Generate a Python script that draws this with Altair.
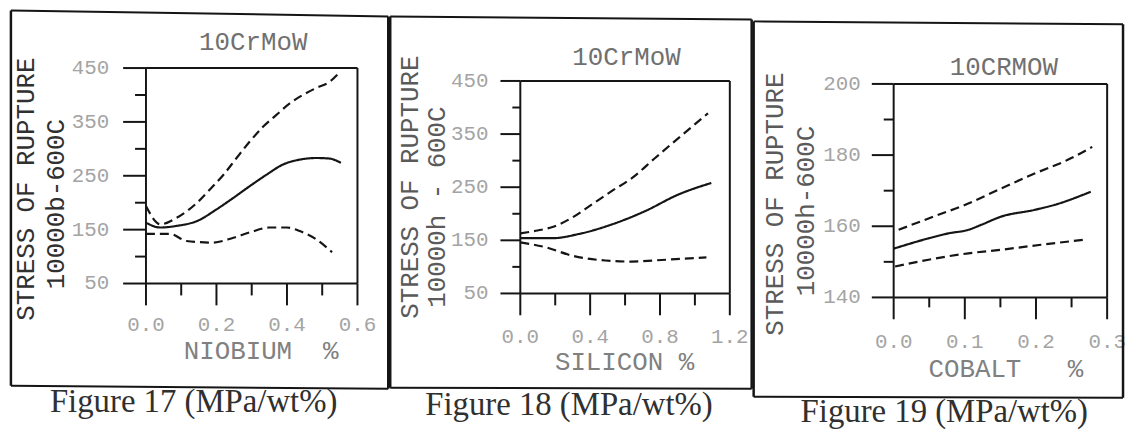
import altair as alt
import pandas as pd

MONO = "Liberation Mono"
SERIF = "Liberation Serif"
NB = "\u00a0"

# ---------------- data: Figure 17 (niobium) ----------------
nb_mid_x = [0.000, 0.040, 0.087, 0.145, 0.201, 0.248, 0.295, 0.342, 0.389, 0.436, 0.483, 0.520, 0.553]
nb_mid_y = [163, 154, 157, 166, 188, 209, 231, 252, 271, 280, 283, 282, 274]
nb_up_x = [0.000, 0.041, 0.087, 0.145, 0.182, 0.220, 0.257, 0.295, 0.332, 0.370, 0.407, 0.445, 0.483, 0.520, 0.548]
nb_up_y = [194, 160, 172, 200, 225, 252, 283, 314, 341, 363, 384, 400, 413, 424, 441]
nb_lo_x = [0.000, 0.068, 0.115, 0.190, 0.248, 0.295, 0.351, 0.400, 0.434, 0.483, 0.528]
nb_lo_y = [142, 142, 129, 126, 135, 145, 154, 154, 148, 132, 108]

# ---------------- data: Figure 18 (silicon) ----------------
si_mid_x = [0.0, 0.184, 0.336, 0.525, 0.715, 0.904, 1.094]
si_mid_y = [154, 154, 162, 180, 205, 236, 258]
si_up_x = [0.0, 0.089, 0.184, 0.298, 0.412, 0.525, 0.639, 0.772, 0.904, 1.075]
si_up_y = [163, 168, 175, 193, 218, 243, 267, 305, 342, 389]
si_lo_x = [0.0, 0.146, 0.298, 0.487, 0.639, 0.810, 1.066]
si_lo_y = [146, 137, 121, 112, 110, 113, 118]

# ---------------- data: Figure 19 (cobalt) ----------------
co_mid_x = [0.0, 0.049, 0.077, 0.105, 0.123, 0.151, 0.198, 0.226, 0.277]
co_mid_y = [153.7, 156.6, 158.0, 159.0, 160.4, 162.7, 164.6, 166.0, 169.7]
co_up_x = [0.007, 0.049, 0.100, 0.151, 0.198, 0.244, 0.279]
co_up_y = [159.0, 162.2, 166.0, 170.6, 174.8, 178.6, 182.3]
co_lo_x = [0.002, 0.049, 0.105, 0.151, 0.207, 0.267]
co_lo_y = [148.7, 150.6, 152.4, 153.4, 154.8, 156.2]

# ---------------- ticks and tick labels ----------------
nb_x_major = [0.0, 0.2, 0.4, 0.6]
nb_x_labels = ["0.0", "0.2", "0.4", "0.6"]
nb_x_minor = [0.1, 0.3, 0.5]
si_x_major = [0.0, 0.4, 0.8, 1.2]
si_x_labels = ["0.0", "0.4", "0.8", "1.2"]
si_x_minor = [0.2, 0.6, 1.0]
co_x_major = [0.0, 0.1, 0.2, 0.3]
co_x_labels = ["0.0", "0.1", "0.2", "0.3"]
co_x_minor = [0.05, 0.15, 0.25]
st_y_major = [50, 150, 250, 350, 450]
st_y_labels = ["50", "150", "250", "350", "450"]
st_y_minor = [100, 200, 300, 400]
co_y_major = [140, 160, 180, 200]
co_y_labels = ["140", "160", "180", "200"]
co_y_minor = [150, 170, 190]

one = alt.Data(values=[{"k": 1}])
INK = "#151515"
LBL = "#a4a4a4"


def seg(x1, y1, x2, y2, w=2.0):
    return alt.Chart(one).mark_rule(color=INK, strokeWidth=w).encode(
        x=alt.value(x1), y=alt.value(y1), x2=alt.value(x2), y2=alt.value(y2))


def txt(s, x, y, size, color, font=MONO, angle=0, baseline="alphabetic"):
    return alt.Chart(one).mark_text(text=s, font=font, fontSize=size, color=color, angle=angle,
                                    align="center", baseline=baseline).encode(
        x=alt.value(x), y=alt.value(y))


def panel(c):
    W, H, top = c["W"], c["H"], c["top"]
    frames = []
    for name, xs, ys in c["series"]:
        frames.append(pd.DataFrame({"x": xs, "y": ys, "s": name}))
    df = pd.concat(frames, ignore_index=True)
    names = [s[0] for s in c["series"]]
    xsc = alt.Scale(domain=c["xdom"], nice=False, zero=False)
    ysc = alt.Scale(domain=c["ydom"], nice=False, zero=False, range=[H, top])
    lines = alt.Chart(df).mark_line(interpolate="monotone", color=INK, strokeWidth=2.2).encode(
        x=alt.X("x:Q", scale=xsc, axis=None),
        y=alt.Y("y:Q", scale=ysc, axis=None),
        strokeDash=alt.StrokeDash("s:N", scale=alt.Scale(domain=names, range=c["dashes"]), legend=None),
    )

    def yrule(vals, x1, x2):
        return alt.Chart(pd.DataFrame({"y": vals})).mark_rule(color=INK, strokeWidth=2).encode(
            y=alt.Y("y:Q", scale=ysc, axis=None), x=alt.value(x1), x2=alt.value(x2))

    def xrule(vals, y1, y2):
        return alt.Chart(pd.DataFrame({"x": vals})).mark_rule(color=INK, strokeWidth=2).encode(
            x=alt.X("x:Q", scale=xsc, axis=None), y=alt.value(y1), y2=alt.value(y2))

    def ytick(vals, ln):
        return alt.Chart(pd.DataFrame({"y": vals})).mark_tick(
            color=INK, thickness=2, size=ln, orient="horizontal", opacity=1).encode(
            y=alt.Y("y:Q", scale=ysc, axis=None), x=alt.value(-ln / 2))

    def xtick(vals, ln):
        return alt.Chart(pd.DataFrame({"x": vals})).mark_tick(
            color=INK, thickness=2, size=ln, orient="vertical", opacity=1).encode(
            x=alt.X("x:Q", scale=xsc, axis=None), y=alt.value(H + ln / 2))

    ylab = alt.Chart(pd.DataFrame({"y": c["ymaj"], "t": c["ylab"]})).mark_text(
        font=MONO, fontSize=21, color=LBL, align="right", baseline="middle").encode(
        y=alt.Y("y:Q", scale=ysc, axis=None), x=alt.value(-c["yt"] - c["ylp"]), text="t:N")
    xlab = alt.Chart(pd.DataFrame({"x": c["xmaj"], "t": c["xlab"]})).mark_text(
        font=MONO, fontSize=21, color=LBL, align="center", baseline="top").encode(
        x=alt.X("x:Q", scale=xsc, axis=None), y=alt.value(H + c["xt"] + c["xlp"]), text="t:N")

    f = c["frame"]  # left, right, top_l, top_r, bot_l, bot_r
    deco = [
        seg(f[0], f[2], f[1], f[3]),
        seg(f[0], f[4], f[1], f[5]),
        seg(f[0], f[2], f[0], f[4], w=2.5),
        seg(f[1], f[3], f[1], f[5], w=2.5),
    ]
    texts = [
        txt(c["title"], c["tpos"][0], c["tpos"][1], 26, "#707070"),
        txt(c["yt1"], c["y1pos"][0], c["y1pos"][1], 26, c["ycol"], angle=270, baseline="middle"),
        txt(c["yt2"], c["y2pos"][0], c["y2pos"][1], 26, c["ycol"], angle=270, baseline="middle"),
        txt(c["xtitle"], c["xpos"][0], c["xpos"][1], 26, "#808080"),
        txt(c["cap"], c["cpos"][0], c["cpos"][1], 33, "#303030", font=SERIF),
    ]
    layers = [lines,
              # plot box along the domain ends
              yrule(c["ydom"], 0, W), xrule(c["xdom"], top, H),
              # ticks
              ytick(c["ymaj"], c["yt"]), ytick(c["ymin"], c["ymt"]),
              xtick(c["xmaj"], c["xt"]), xtick(c["xmin"], c["xmt"]),
              ylab, xlab] + deco + texts
    return alt.layer(*layers).properties(width=W, height=H)


# all panels share the same view origin (y = 66 px on the page)
p1 = panel(dict(
    W=213, H=217, top=0, xdom=[0, 0.6], ydom=[50, 450],
    series=[("mean", nb_mid_x, nb_mid_y), ("upper", nb_up_x, nb_up_y), ("lower", nb_lo_x, nb_lo_y)],
    dashes=[[1, 0], [9, 5], [9, 5]],
    xmaj=nb_x_major, xlab=nb_x_labels, xmin=nb_x_minor,
    ymaj=st_y_major, ylab=st_y_labels, ymin=st_y_minor,
    xt=22, yt=23, xmt=12, ymt=11, xlp=9, ylp=14,
    frame=[-136, 244, -58, -52, 320, 323],
    title="10CrMoW", tpos=(108, -18),
    yt1="STRESS OF RUPTURE", y1pos=(-121, 122), yt2="10000b-600C", y2pos=(-91, 137), ycol="#303030",
    xtitle="NIOBIUM" + NB * 2 + "%", xpos=(116, 293),
    cap="Figure 17 (MPa/wt%)", cpos=(48, 346),
))

p2 = panel(dict(
    W=211, H=227, top=13, xdom=[0, 1.2], ydom=[50, 450],
    series=[("mean", si_mid_x, si_mid_y), ("upper", si_up_x, si_up_y), ("lower", si_lo_x, si_lo_y)],
    dashes=[[1, 0], [3, 8], [4, 7]],
    xmaj=si_x_major, xlab=si_x_labels, xmin=si_x_minor,
    ymaj=st_y_major, ylab=st_y_labels, ymin=st_y_minor,
    xt=22, yt=20, xmt=12, ymt=8, xlp=11, ylp=12,
    frame=[-131, 233, -52, -49, 322, 323],
    title="10CrMoW", tpos=(107, -3),
    yt1="STRESS OF RUPTURE", y1pos=(-111, 120), yt2="10000h" + NB + "-" + NB + "600C", y2pos=(-84, 140),
    ycol="#5a5a5a",
    xtitle="SILICON" + NB + "%", xpos=(105, 304),
    cap="Figure 18 (MPa/wt%)", cpos=(49, 349),
))

p3 = panel(dict(
    W=215, H=231, top=16, xdom=[0, 0.3], ydom=[140, 200],
    series=[("mean", co_mid_x, co_mid_y), ("upper", co_up_x, co_up_y), ("lower", co_lo_x, co_lo_y)],
    dashes=[[1, 0], [7, 6], [4, 7]],
    xmaj=co_x_major, xlab=co_x_labels, xmin=co_x_minor,
    ymaj=co_y_major, ylab=co_y_labels, ymin=co_y_minor,
    xt=22, yt=22, xmt=10, ymt=10, xlp=12, ylp=11,
    frame=[-141, 231, -47, -44, 331, 332],
    title="10CRMOW", tpos=(111, 7),
    yt1="STRESS OF RUPTURE", y1pos=(-119, 137), yt2="10000h-600C", y2pos=(-88, 144), ycol="#5a5a5a",
    xtitle="COBALT" + NB * 3 + "%", xpos=(113, 311),
    cap="Figure 19 (MPa/wt%)", cpos=(51, 356),
))

chart = alt.hconcat(p1, p2, p3, spacing=-2).properties(
    padding={"left": 9, "top": 7, "right": 0, "bottom": 0},
    background="white",
).configure_view(stroke="transparent")

chart.save("out.html", embed_options={"renderer": "svg", "actions": False})
